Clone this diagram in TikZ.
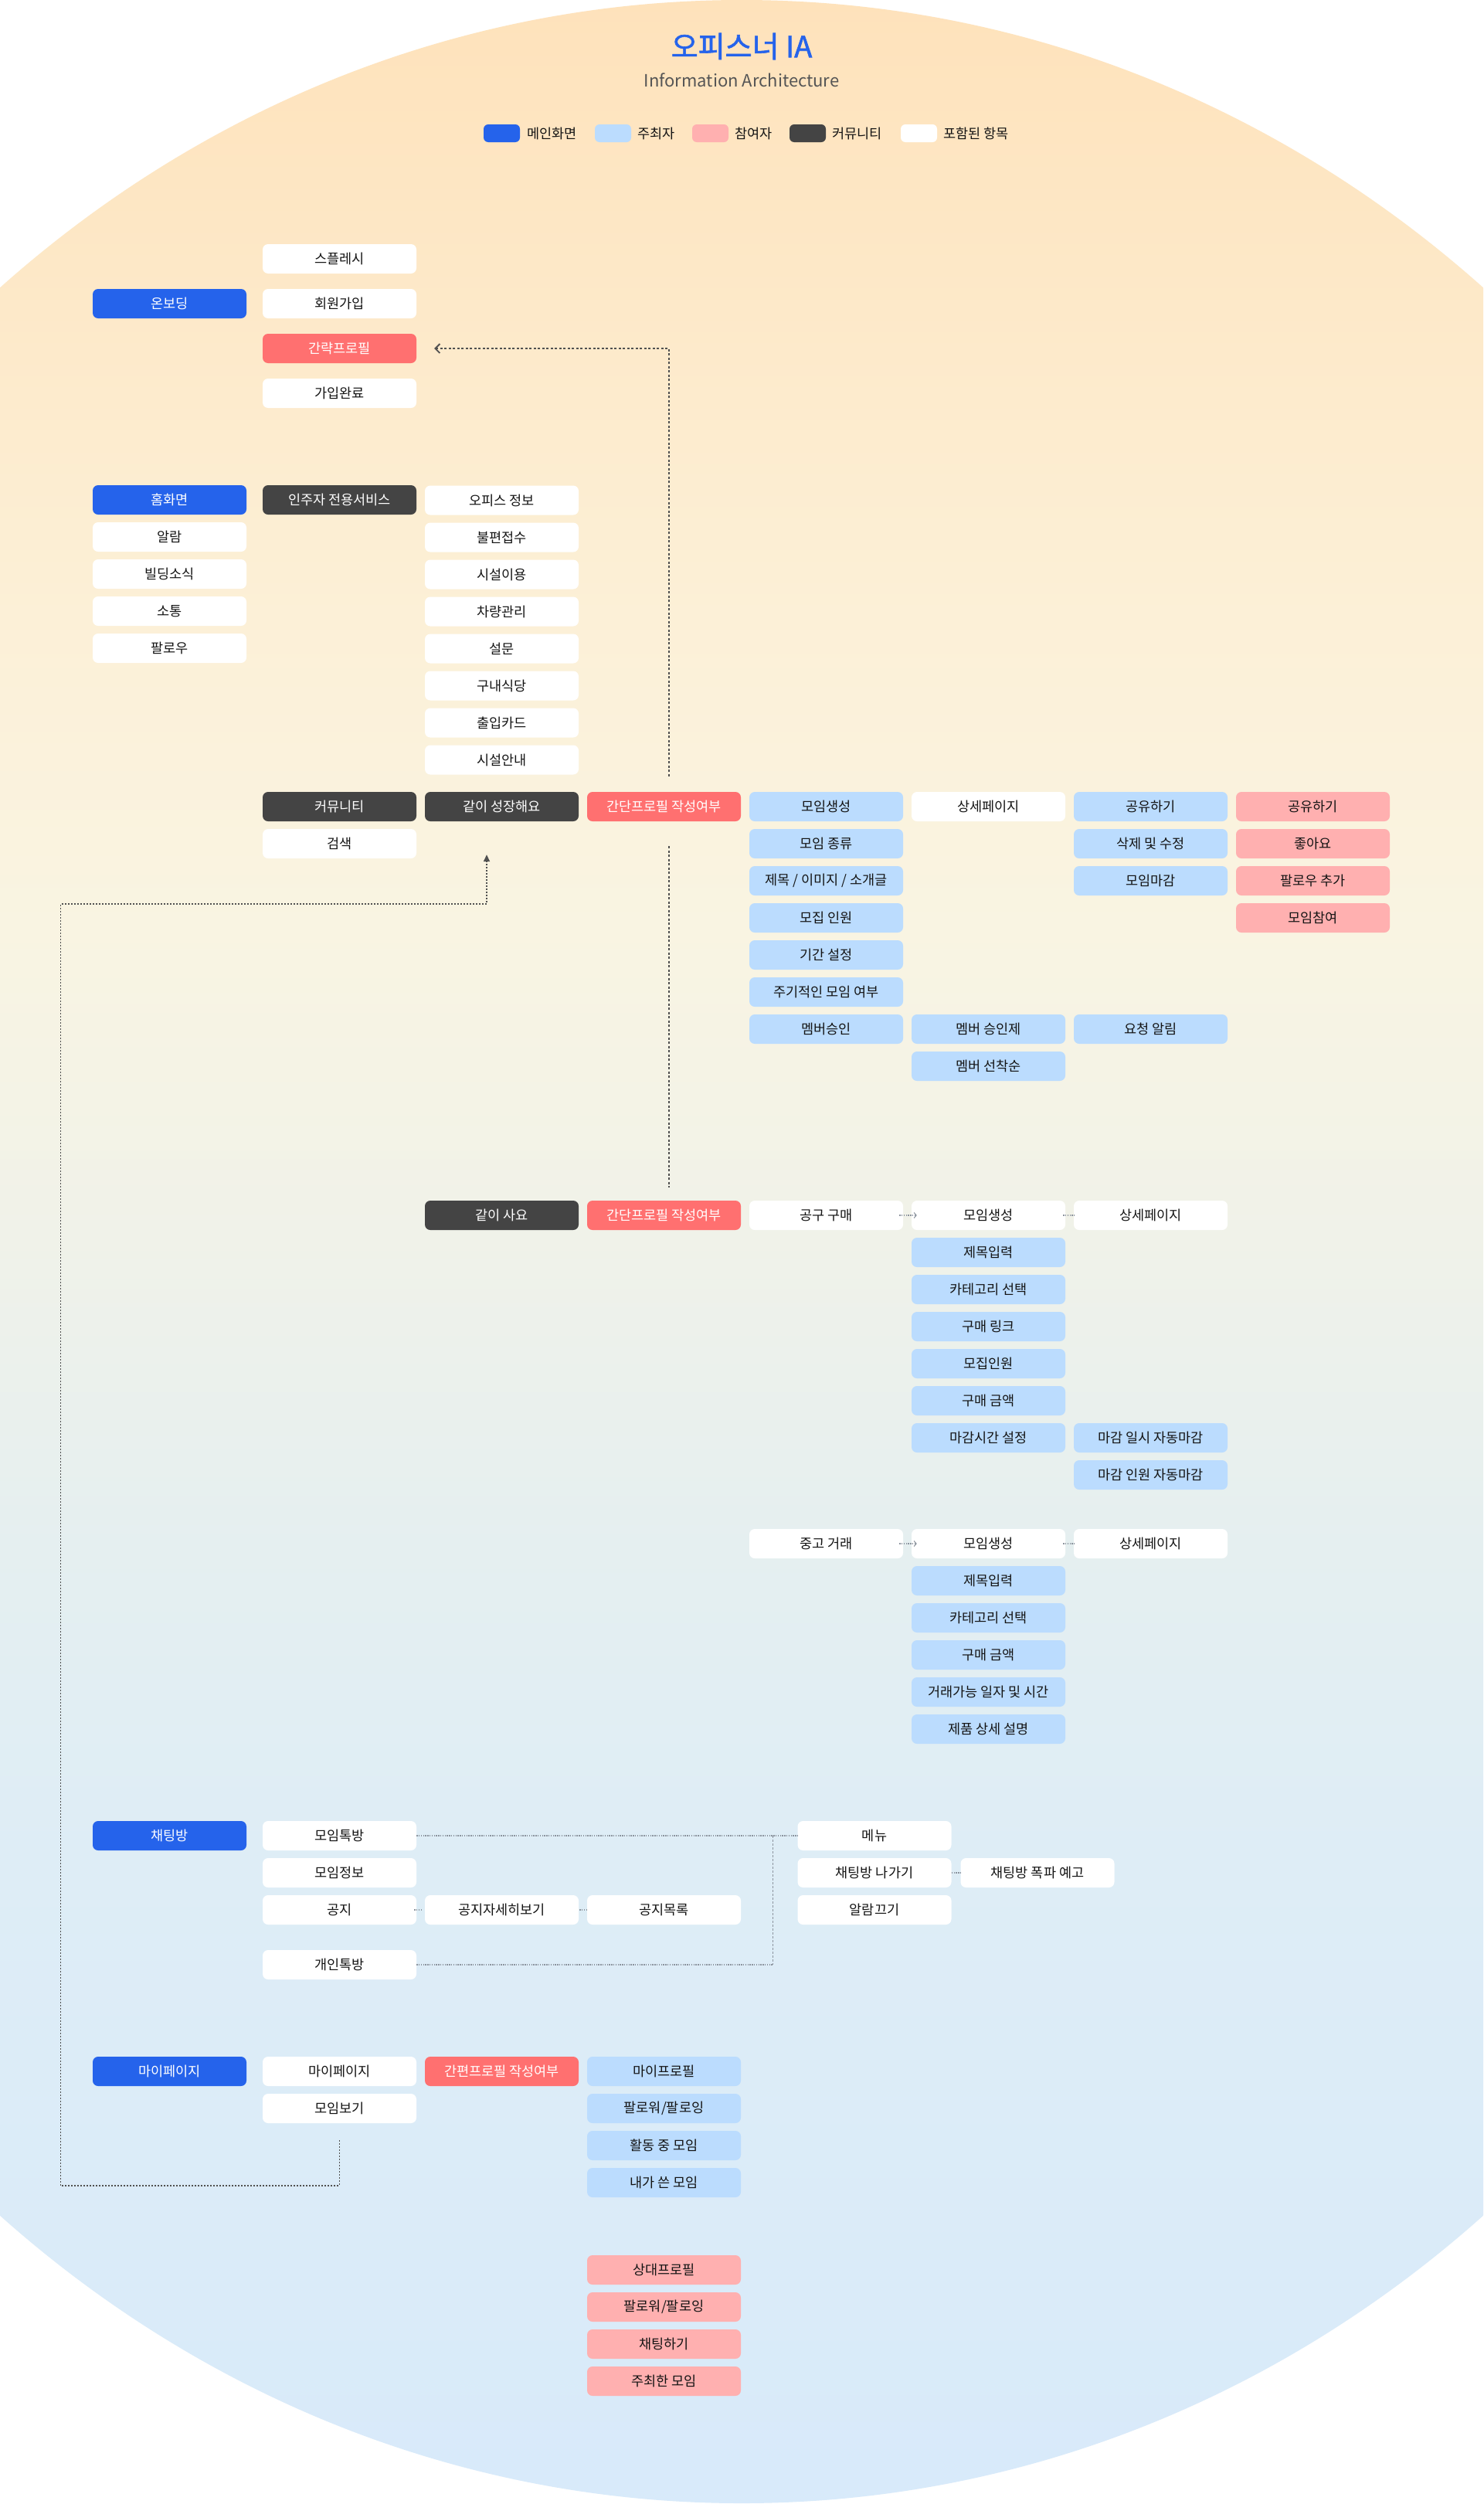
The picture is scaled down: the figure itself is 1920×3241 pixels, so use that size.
\documentclass[tikz,border=0pt]{standalone}
\usepackage{fontspec}
\setmainfont{Noto Sans CJK KR}
\newfontfamily\titlefont{Noto Sans CJK KR}[FakeBold=1.6]
\usetikzlibrary{arrows.meta,calc}

% palette
\definecolor{cMain}{RGB}{37,99,235}
\definecolor{cHost}{RGB}{187,220,254}
\definecolor{cGuest}{RGB}{255,176,176}
\definecolor{cComm}{RGB}{68,68,68}
\definecolor{cFlag}{RGB}{255,112,112}
\definecolor{cLine}{RGB}{80,80,80}
\definecolor{cSoft}{RGB}{140,148,158}
\definecolor{cSub}{RGB}{85,85,85}
\definecolor{cText}{RGB}{20,20,20}

% background fade, warm at the top to pale blue at the bottom
\definecolor{bgA}{RGB}{254,226,187}
\definecolor{bgB}{RGB}{253,233,201}
\definecolor{bgC}{RGB}{252,240,215}
\definecolor{bgD}{RGB}{249,244,226}
\definecolor{bgE}{RGB}{240,242,233}
\definecolor{bgF}{RGB}{229,239,240}
\definecolor{bgG}{RGB}{222,237,246}
\definecolor{bgH}{RGB}{216,234,250}
\pgfdeclareverticalshading{bgfade}{100bp}{%
  color(0bp)=(bgH); color(25bp)=(bgH); color(38bp)=(bgG); color(44.1bp)=(bgF);
  color(50.3bp)=(bgE); color(56.5bp)=(bgD); color(62.7bp)=(bgC); color(68.8bp)=(bgB);
  color(75bp)=(bgA); color(100bp)=(bgA)}

\newcommand\boxfont{\fontsize{17.5}{20}\selectfont}

\tikzset{
  box/.style={rounded corners=7pt, minimum width=199pt, minimum height=38pt,
    inner sep=0pt, font=\boxfont, text=cText},
  mainbox/.style={box, fill=cMain, text=white},
  hostbox/.style={box, fill=cHost},
  guestbox/.style={box, fill=cGuest},
  commbox/.style={box, fill=cComm, text=white},
  itembox/.style={box, fill=white},
  flagbox/.style={box, fill=cFlag, text=white},
  swatch/.style={rounded corners=6pt, minimum width=47pt, minimum height=23pt, inner sep=0pt},
  legendtext/.style={anchor=west, font=\boxfont, text=cText, inner sep=0pt},
  flow/.style={draw=cLine, line width=1.8pt, dash pattern=on 3pt off 2.5pt},
  loopline/.style={draw=cLine, line width=1.7pt, dash pattern=on 2pt off 2pt},
  soft/.style={draw=cSoft, line width=1.6pt, dash pattern=on 1.4pt off 1.4pt},
  softthin/.style={draw=cSoft, line width=1pt, dash pattern=on 3pt off 2pt},
}

\begin{document}
\begin{tikzpicture}[x=1pt,y=-1pt]
\useasboundingbox (0,0) rectangle (1920,3241);
\clip (0,0) rectangle (1920,3241);
\fill[white] (0,0) rectangle (1920,3241);
\shade[shading=bgfade] (960,1620) ellipse [x radius=1505pt, y radius=1620pt];

% heading
\node[font=\titlefont\fontsize{38}{42}\selectfont, text=cMain] (title) at (960,60) {오피스너 IA};
\node[font=\fontsize{22}{26}\selectfont, text=cSub] (subtitle) at (960,104) {Information Architecture};

% legend
\node[swatch, fill=cMain] (lgMain) at (649.5,172.5) {};
\node[legendtext] (lgMainT) at (682,172.5) {메인화면};
\node[swatch, fill=cHost] (lgHost) at (793.5,172.5) {};
\node[legendtext] (lgHostT) at (825,172.5) {주최자};
\node[swatch, fill=cGuest] (lgGuest) at (919.5,172.5) {};
\node[legendtext] (lgGuestT) at (951,172.5) {참여자};
\node[swatch, fill=cComm] (lgComm) at (1045.5,172.5) {};
\node[legendtext] (lgCommT) at (1077,172.5) {커뮤니티};
\node[swatch, fill=white] (lgItem) at (1189.5,172.5) {};
\node[legendtext] (lgItemT) at (1221,172.5) {포함된 항목};

% onboarding
\node[mainbox] (onb) at (219.5,393) {온보딩};
\node[itembox] (splash) at (439.5,335) {스플레시};
\node[itembox] (signup) at (439.5,393) {회원가입};
\node[flagbox] (brief) at (439.5,451) {간략프로필};
\node[itembox] (joined) at (439.5,509) {가입완료};

% home
\node[mainbox] (home) at (219.5,647) {홈화면};
\node[itembox] (alarm) at (219.5,695) {알람};
\node[itembox] (news) at (219.5,743) {빌딩소식};
\node[itembox] (talk) at (219.5,791) {소통};
\node[itembox] (follow) at (219.5,839) {팔로우};
\node[commbox] (resid) at (439.5,647) {인주자 전용서비스};
\node[itembox] (office) at (649.5,647.5) {오피스 정보};
\node[itembox] (claim) at (649.5,695.5) {불편접수};
\node[itembox] (facil) at (649.5,743.5) {시설이용};
\node[itembox] (car) at (649.5,791.5) {차량관리};
\node[itembox] (survey) at (649.5,839.5) {설문};
\node[itembox] (cafe) at (649.5,887.5) {구내식당};
\node[itembox] (card) at (649.5,935.5) {출입카드};
\node[itembox] (guide) at (649.5,983.5) {시설안내};

% community: grow together
\node[commbox] (comm) at (439.5,1044) {커뮤니티};
\node[itembox] (search) at (439.5,1092) {검색};
\node[commbox] (grow) at (649.5,1044) {같이 성장해요};
\node[flagbox] (flagA) at (859.5,1044) {간단프로필 작성여부};
\node[hostbox] (gNew) at (1069.5,1044) {모임생성};
\node[hostbox] (gKind) at (1069.5,1092) {모임 종류};
\node[hostbox] (gTitle) at (1069.5,1140) {제목 / 이미지 / 소개글};
\node[hostbox] (gSize) at (1069.5,1188) {모집 인원};
\node[hostbox] (gTerm) at (1069.5,1236) {기간 설정};
\node[hostbox] (gCycle) at (1069.5,1284) {주기적인 모임 여부};
\node[hostbox] (gApprove) at (1069.5,1332) {멤버승인};
\node[itembox] (gDetail) at (1279.5,1044) {상세페이지};
\node[hostbox] (gByOk) at (1279.5,1332) {멤버 승인제};
\node[hostbox] (gFirst) at (1279.5,1380) {멤버 선착순};
\node[hostbox] (hShare) at (1489.5,1044) {공유하기};
\node[hostbox] (hEdit) at (1489.5,1092) {삭제 및 수정};
\node[hostbox] (hClose) at (1489.5,1140) {모임마감};
\node[hostbox] (hNotify) at (1489.5,1332) {요청 알림};
\node[guestbox] (pShare) at (1699.5,1044) {공유하기};
\node[guestbox] (pLike) at (1699.5,1092) {좋아요};
\node[guestbox] (pFollow) at (1699.5,1140) {팔로우 추가};
\node[guestbox] (pJoin) at (1699.5,1188) {모임참여};

% community: buy together
\node[commbox] (buy) at (649.5,1573) {같이 사요};
\node[flagbox] (flagB) at (859.5,1573) {간단프로필 작성여부};
\node[itembox] (bGroup) at (1069.5,1573) {공구 구매};
\node[itembox] (bNew) at (1279.5,1573) {모임생성};
\node[hostbox] (bTitle) at (1279.5,1621) {제목입력};
\node[hostbox] (bCat) at (1279.5,1669) {카테고리 선택};
\node[hostbox] (bLink) at (1279.5,1717) {구매 링크};
\node[hostbox] (bSize) at (1279.5,1765) {모집인원};
\node[hostbox] (bPrice) at (1279.5,1813) {구매 금액};
\node[hostbox] (bDue) at (1279.5,1861) {마감시간 설정};
\node[itembox] (bDetail) at (1489.5,1573) {상세페이지};
\node[hostbox] (bDueTime) at (1489.5,1861) {마감 일시 자동마감};
\node[hostbox] (bDueSize) at (1489.5,1909) {마감 인원 자동마감};

% community: second-hand
\node[itembox] (uTrade) at (1069.5,1998) {중고 거래};
\node[itembox] (uNew) at (1279.5,1998) {모임생성};
\node[hostbox] (uTitle) at (1279.5,2046) {제목입력};
\node[hostbox] (uCat) at (1279.5,2094) {카테고리 선택};
\node[hostbox] (uPrice) at (1279.5,2142) {구매 금액};
\node[hostbox] (uWhen) at (1279.5,2190) {거래가능 일자 및 시간};
\node[hostbox] (uDesc) at (1279.5,2238) {제품 상세 설명};
\node[itembox] (uDetail) at (1489.5,1998) {상세페이지};

% chat
\node[mainbox] (chat) at (219.5,2376) {채팅방};
\node[itembox] (cGroup) at (439.5,2376) {모임톡방};
\node[itembox] (cInfo) at (439.5,2424) {모임정보};
\node[itembox] (cNotice) at (439.5,2472) {공지};
\node[itembox] (cDm) at (439.5,2543) {개인톡방};
\node[itembox] (cNoticeView) at (649.5,2472) {공지자세히보기};
\node[itembox] (cNoticeList) at (859.5,2472) {공지목록};
\node[itembox] (cMenu) at (1132,2376) {메뉴};
\node[itembox] (cLeave) at (1132,2424) {채팅방 나가기};
\node[itembox] (cMute) at (1132,2472) {알람끄기};
\node[itembox] (cBlast) at (1343,2424) {채팅방 폭파 예고};

% my page
\node[mainbox] (mine) at (219.5,2681) {마이페이지};
\node[itembox] (mPage) at (439.5,2681) {마이페이지};
\node[itembox] (mView) at (439.5,2729) {모임보기};
\node[flagbox] (flagC) at (649.5,2681) {간편프로필 작성여부};
\node[hostbox] (mProfile) at (859.5,2681) {마이프로필};
\node[hostbox] (mFollow) at (859.5,2729) {팔로워/팔로잉};
\node[hostbox] (mActive) at (859.5,2777) {활동 중 모임};
\node[hostbox] (mWritten) at (859.5,2825) {내가 쓴 모임};
\node[guestbox] (oProfile) at (859.5,2938) {상대프로필};
\node[guestbox] (oFollow) at (859.5,2986) {팔로워/팔로잉};
\node[guestbox] (oChat) at (859.5,3034) {채팅하기};
\node[guestbox] (oHosted) at (859.5,3082) {주최한 모임};

% --- connectors ---
% profile check leads back to the short profile step
\coordinate (briefIn) at ($(brief.east)+(23,0)$);
\draw[flow, -{Straight Barb[length=6pt,width=12pt,line width=1.8pt]}]
  ($(flagA.north)+(6.5,-20)$) |- (briefIn);
\draw[flow] ($(flagA.south)+(6.5,32)$) -- ($(flagB.north)+(6.5,-17)$);

% my meetings lead into the community
\coordinate (loopStart) at ($(mView.south)+(0,22)$);
\coordinate (loopLow) at (78.6,2829);
\coordinate (loopHigh) at (78.6,1170);
\coordinate (growIn) at ($(grow.south)+(-19.5,43)$);
\draw[loopline, -{Triangle[length=9pt,width=8pt]}]
  (loopStart) |- (loopLow) -- (loopHigh) -| (growIn);

% group purchase / second-hand steps
\draw[soft, -{Straight Barb[length=3pt,width=7pt,line width=1pt]}] ([xshift=-5pt]bGroup.east) -- ([xshift=7pt]bNew.west);
\draw[soft] ([xshift=-3pt]bNew.east) -- ([xshift=1pt]bDetail.west);
\draw[soft, -{Straight Barb[length=3pt,width=7pt,line width=1pt]}] ([xshift=-5pt]uTrade.east) -- ([xshift=7pt]uNew.west);
\draw[soft] ([xshift=-3pt]uNew.east) -- ([xshift=1pt]uDetail.west);

% chat rooms share the same menu
\coordinate (chatJoin) at ($(cMenu.west)+(-31.5,0)$);
\coordinate (chatJoinLow) at (chatJoin |- cDm.east);
\draw[soft] (cGroup.east) -- (cMenu.west);
\draw[softthin] (chatJoin) -- (chatJoinLow);
\draw[soft] (cDm.east) -- (chatJoinLow);
\draw[soft] ([xshift=-3pt]cNotice.east) -- ([xshift=-3pt]cNoticeView.west);
\draw[soft] ([xshift=1pt]cNoticeView.east) -- (cNoticeList.west);
\draw[soft] (cLeave.east) -- (cBlast.west);
\end{tikzpicture}
\end{document}
